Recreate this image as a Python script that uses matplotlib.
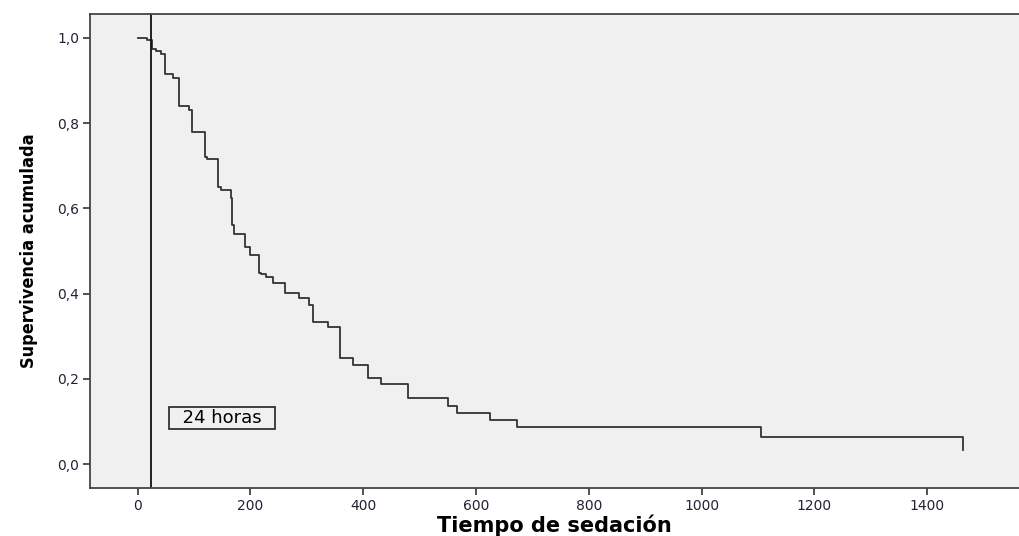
import matplotlib.pyplot as plt
from matplotlib.ticker import FuncFormatter

# survival steps (time, survival after the drop)
times = [0, 17, 25, 32, 41, 48, 63, 73, 91, 96, 120, 123, 143, 148, 165, 168, 171,
         190, 199, 215, 219, 227, 240, 261, 286, 304, 311, 338, 359, 382, 408, 431,
         480, 550, 566, 625, 673, 1105, 1464]
survival = [1.0, 0.995, 0.973, 0.968, 0.962, 0.915, 0.906, 0.841, 0.831, 0.780,
            0.721, 0.715, 0.650, 0.642, 0.624, 0.561, 0.541, 0.510, 0.491, 0.449,
            0.446, 0.438, 0.426, 0.401, 0.389, 0.373, 0.334, 0.321, 0.248, 0.232,
            0.203, 0.189, 0.154, 0.136, 0.120, 0.103, 0.086, 0.064, 0.033]
x_ticks = [0, 200, 400, 600, 800, 1000, 1200, 1400]
y_ticks = [0.0, 0.2, 0.4, 0.6, 0.8, 1.0]
cutoff = 24

fig = plt.figure(figsize=(10.19, 5.36), dpi=100)
ax = fig.add_axes([0.0886, 0.0896, 0.9114, 0.8843])
ax.set_facecolor('#f0f0f0')

ax.step(times, survival, where='post', color='#333333', lw=1.3)
ax.axvline(cutoff, color='#111111', lw=1.3)

ax.text(149, 0.108, "  24 horas  ", fontsize=13, family='DejaVu Sans',
        va='center', ha='center',
        bbox=dict(boxstyle='square,pad=0.1', facecolor='#f0f0f0',
                  edgecolor='#222222', lw=1.2))

ax.set_xlim(-84, 1563)
ax.set_ylim(-0.056, 1.056)
ax.set_xticks(x_ticks)
ax.set_yticks(y_ticks)
ax.yaxis.set_major_formatter(FuncFormatter(lambda v, p: f"{v:.1f}".replace('.', ',')))
ax.tick_params(direction='out', length=5, width=1.2, color='#333333',
               labelsize=10, labelcolor='#222233', pad=3)
ax.spines['right'].set_visible(False)
for s in ['left', 'bottom', 'top']:
    ax.spines[s].set_color('#444444')
    ax.spines[s].set_linewidth(1.3)

ax.set_xlabel("Tiempo de sedación", fontsize=15, fontweight='bold', labelpad=1)
ax.set_ylabel("Supervivencia acumulada", fontsize=13, fontweight='bold',
              family='DejaVu Sans', fontstretch='condensed', labelpad=14)

fig.savefig('out.png', dpi=100)
